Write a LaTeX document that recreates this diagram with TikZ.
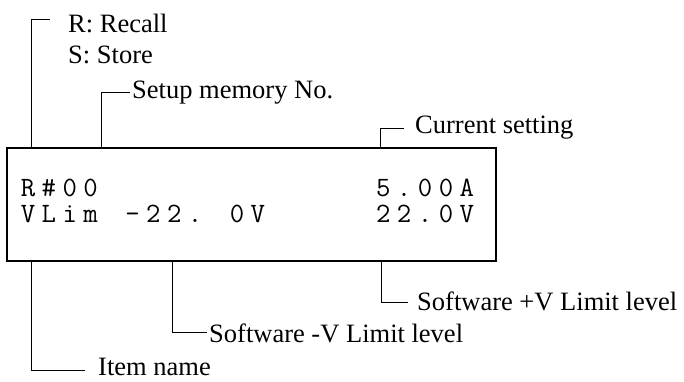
\documentclass[tikz,border=0pt]{standalone}
\usepackage{fontspec}
\setmainfont{Liberation Serif}
\begin{document}
\begin{tikzpicture}[x=1pt,y=-1pt,
  lbl/.style={anchor=base west,inner sep=0pt,font=\fontsize{26.5}{26.5}\selectfont},
  ch/.style={anchor=base,inner sep=0pt,font=\ttfamily\fontsize{28}{28}\selectfont},
  leader/.style={line width=0.9pt},
  lcdbox/.style={draw,line width=1.3pt,minimum width=489pt,minimum height=113pt,inner sep=0pt}]
\useasboundingbox (0,0) rectangle (684,381);
\node[lcdbox] (box) at (251.5,204.5) {};
% display characters on a fixed character grid
\foreach \c/\k in {R/0,\#/1,0/2,0/3,5/17,./18,0/19,0/20,A/21}
  \node[ch] at ({28+20.9*\k},196) {\c};
\foreach \c/\k in {V/0,L/1,i/2,m/3,-/5,2/6,2/7,./8,0/10,V/11,2/17,2/18,./19,0/20,V/21}
  \node[ch] at ({28+20.9*\k},222) {\c};
% labels
\node[lbl] (recall) at (68,32) {R: Recall};
\node[lbl] (store) at (68,63) {S: Store};
\node[lbl] (setup) at (132,98) {Setup memory No.};
\node[lbl] (cur) at (415,133) {Current setting};
\node[lbl] (vplus) at (417,310) {Software +V Limit level};
\node[lbl] (vminus) at (209,342) {Software -V Limit level};
\node[lbl] (item) at (98,375) {Item name};
% leader coordinates
\coordinate (rS) at (31,148);   \coordinate (rE) at (50,19);
\coordinate (sS) at (101,148);  \coordinate (sE) at (130,92);
\coordinate (cS) at (380,148);  \coordinate (cE) at (404,128);
\coordinate (pS) at (381,261);  \coordinate (pE) at (408,302);
\coordinate (mS) at (172,261);  \coordinate (mE) at (207,332);
\coordinate (iS) at (31,261);   \coordinate (iE) at (85,370);
\draw[leader] (rS) |- (rE);
\draw[leader] (sS) |- (sE);
\draw[leader] (cS) |- (cE);
\draw[leader] (pS) |- (pE);
\draw[leader] (mS) |- (mE);
\draw[leader] (iS) |- (iE);
\end{tikzpicture}
\end{document}
